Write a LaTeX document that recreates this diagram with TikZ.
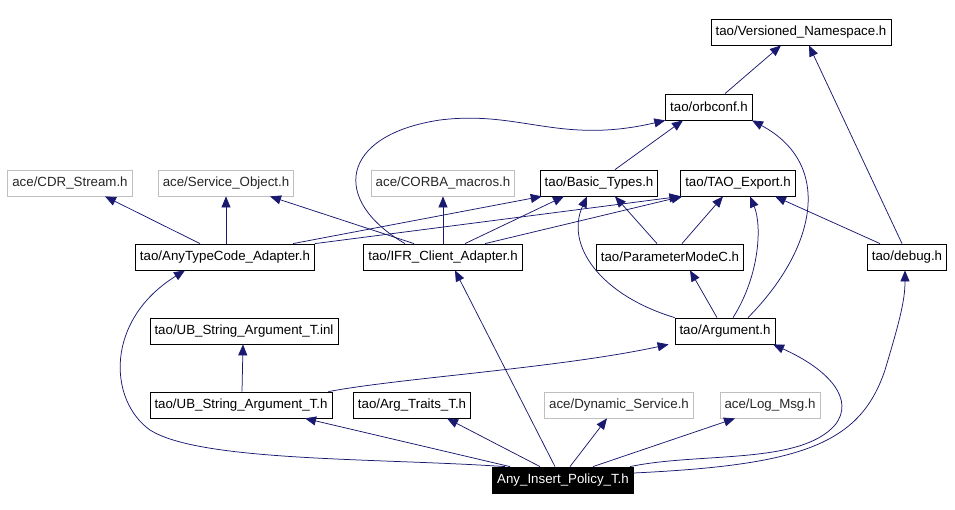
\documentclass[tikz,border=0pt]{standalone}
\usepackage{fontspec}
\setmainfont{Liberation Sans}
\usetikzlibrary{arrows.meta}
\definecolor{edgeblue}{RGB}{25,25,112}
\definecolor{extgray}{RGB}{191,191,191}

\begin{document}
\begin{tikzpicture}[x=1pt,y=-1pt]
\tikzset{file/.style={draw=black,line width=0.8pt,minimum height=26pt,inner xsep=4.5pt,inner ysep=0pt,font=\fontsize{13.3}{16}\selectfont}}
\tikzset{ext/.style={file,draw=extgray,text=black!85}}
\tikzset{root/.style={file,fill=black,text=white}}
\tikzset{dep/.style={draw=edgeblue,line width=0.75pt,-{Triangle[length=11pt,width=9pt]}}}
\useasboundingbox (0,0) rectangle (955,510);
\node[file] (vn) at (801,32) {tao/Versioned\_Namespace.h};
\node[file] (orb) at (709,107) {tao/orbconf.h};
\node[ext] (cdr) at (70,183) {ace/CDR\_Stream.h};
\node[ext] (so) at (226,183) {ace/Service\_Object.h};
\node[ext] (cm) at (443,183) {ace/CORBA\_macros.h};
\node[file] (bt) at (599,183) {tao/Basic\_Types.h};
\node[file] (te) at (738,183) {tao/TAO\_Export.h};
\node[file] (atca) at (225,257) {tao/AnyTypeCode\_Adapter.h};
\node[file] (ifr) at (443,257) {tao/IFR\_Client\_Adapter.h};
\node[file] (pmc) at (670,257) {tao/ParameterModeC.h};
\node[file] (dbg) at (907,257) {tao/debug.h};
\node[file] (ubinl) at (244,331) {tao/UB\_String\_Argument\_T.inl};
\node[file] (arg) at (725,331) {tao/Argument.h};
\node[file] (ubh) at (241,405) {tao/UB\_String\_Argument\_T.h};
\node[file] (att) at (412,405) {tao/Arg\_Traits\_T.h};
\node[ext] (ds) at (619,405) {ace/Dynamic\_Service.h};
\node[ext] (lm) at (770,405) {ace/Log\_Msg.h};
\node[root] (aip) at (563,480) {Any\_Insert\_Policy\_T.h};

\draw[dep] ([xshift=-58pt]aip.north) .. controls (380,458) and (200,462) .. (150,430) .. controls (108,400) and (105,320) .. ([xshift=-40pt]atca.south);
\draw[dep] ([xshift=-53pt]aip.north) -- ([xshift=64pt]ubh.south);
\draw[dep] ([xshift=-23pt]aip.north) -- ([xshift=35pt]att.south);
\draw[dep] ([xshift=-8pt]aip.north) -- ([xshift=12pt]ifr.south);
\draw[dep] ([xshift=7pt]aip.north) -- ([xshift=-12pt]ds.south);
\draw[dep] ([xshift=30pt]aip.north) -- ([xshift=-35pt]lm.south);
\draw[dep] ([xshift=67pt]aip.north) .. controls (700,452) and (800,465) .. (835,425) .. controls (855,400) and (830,370) .. ([xshift=48pt]arg.south);
\draw[dep] ([yshift=7pt]aip.east) .. controls (800,465) and (860,445) .. (885,370) .. controls (900,320) and (905,300) .. ([xshift=-2pt]dbg.south);

\draw[dep] (arg.north west) .. controls (600,295) and (565,245) .. ([xshift=-12pt]bt.south);
\draw[dep] ([xshift=-8pt]arg.north) -- ([xshift=20pt]pmc.south);
\draw[dep] ([xshift=8pt]arg.north) .. controls (760,275) and (762,225) .. ([xshift=12pt]te.south);
\draw[dep] ([xshift=23pt]arg.north) .. controls (815,250) and (835,165) .. ([xshift=43pt]orb.south);

\draw[dep] ([xshift=1pt]ubh.north) -- ([xshift=-1pt]ubinl.south);
\draw[dep] ([xshift=-4pt]ubh.north east) .. controls (400,378) and (560,368) .. ([xshift=-6pt]arg.south west);

\draw[dep] ([xshift=-13pt]pmc.north) -- ([xshift=16pt]bt.south);
\draw[dep] ([xshift=12pt]pmc.north) -- ([xshift=-15pt]te.south);
\draw[dep] ([xshift=-27pt]dbg.north) -- ([xshift=37pt]te.south);
\draw[dep] ([xshift=-5pt]dbg.north) -- ([xshift=8pt]vn.south);

\draw[dep] ([xshift=-25pt]atca.north) -- ([xshift=35pt]cdr.south);
\draw[dep] ([xshift=1pt]atca.north) -- (so.south);
\draw[dep] ([xshift=68pt]atca.north) -- ([xshift=2pt]bt.south west);
\draw[dep] (atca.north east) -- (te.south west);

\draw[dep] ([xshift=-29pt]ifr.north) -- ([xshift=44pt]so.south);
\draw[dep] (ifr.north) -- (cm.south);
\draw[dep] ([xshift=22pt]ifr.north) -- ([xshift=-35pt]bt.south);
\draw[dep] ([xshift=42pt]ifr.north) -- ([xshift=2pt]te.south west);
\draw[dep] ([xshift=-38pt]ifr.north) .. controls (330,200) and (340,135) .. (440,120) .. controls (520,110) and (560,145) .. (orb.south west);

\draw[dep] ([xshift=16pt]bt.north) -- ([xshift=-26pt]orb.south);
\draw[dep] ([xshift=16pt]orb.north) -- ([xshift=-20pt]vn.south);
\end{tikzpicture}
\end{document}
